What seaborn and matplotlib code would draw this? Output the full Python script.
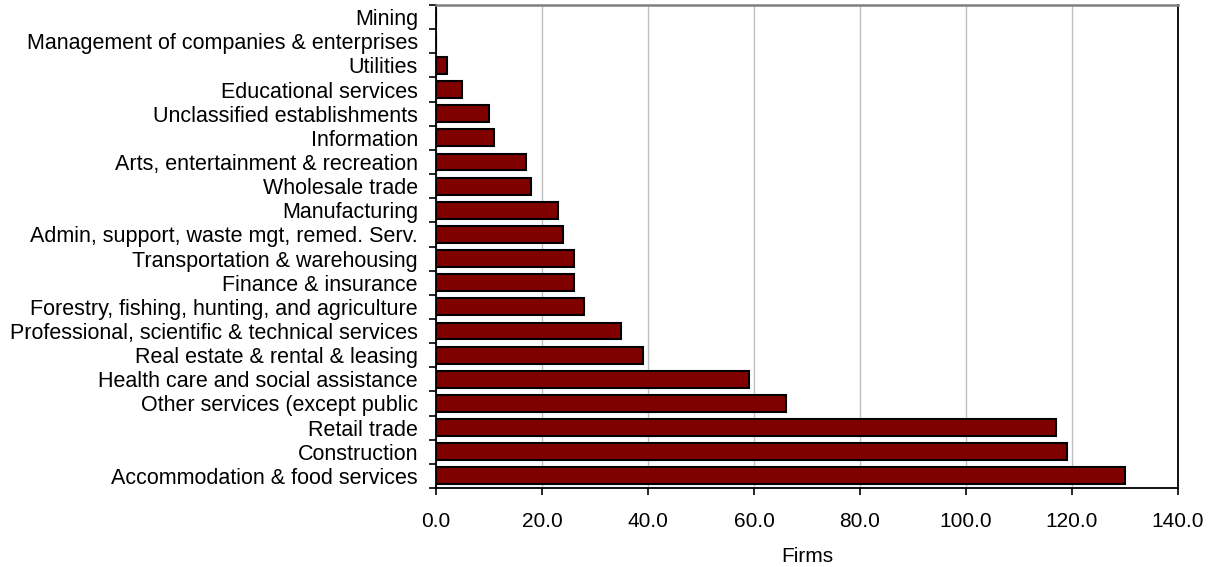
import matplotlib
matplotlib.use("Agg")
import matplotlib.pyplot as plt
from matplotlib.ticker import FixedLocator, FuncFormatter
import seaborn as sns
import pandas as pd
import numpy as np

categories = [
    "Mining",
    "Management of companies & enterprises",
    "Utilities",
    "Educational services",
    "Unclassified establishments",
    "Information",
    "Arts, entertainment & recreation",
    "Wholesale trade",
    "Manufacturing",
    "Admin, support, waste mgt, remed. Serv.",
    "Transportation & warehousing",
    "Finance & insurance",
    "Forestry, fishing, hunting, and agriculture",
    "Professional, scientific & technical services",
    "Real estate & rental & leasing",
    "Health care and social assistance",
    "Other services (except public",
    "Retail trade",
    "Construction",
    "Accommodation & food services",
]
firms = [0, 0, 2, 5, 10, 11, 17, 18, 23, 24, 26, 26, 28, 35, 39, 59, 66, 117, 119, 130]
x_ticks = [0, 20, 40, 60, 80, 100, 120, 140]

df = pd.DataFrame({"Industry": categories, "Firms": firms})

sns.set_style("white")
plt.rcParams["font.family"] = ["Liberation Sans", "DejaVu Sans"]
plt.rcParams["text.color"] = "black"
plt.rcParams["axes.labelcolor"] = "black"
plt.rcParams["xtick.color"] = "black"
plt.rcParams["ytick.color"] = "black"

fig = plt.figure(figsize=(12.09, 5.67), dpi=100)
left, right, bottom, top = 0.3606, 0.9744, 0.1393, 0.9912
ax = fig.add_axes([left, bottom, right - left, top - bottom])

sns.barplot(data=df, x="Firms", y="Industry", order=categories, orient="h",
            color="#800000", saturation=1, width=0.7,
            edgecolor="black", linewidth=1.5, ax=ax, zorder=3)

ax.set_xlim(0, 140)
ax.set_ylim(len(categories) - 0.5, -0.5)
ax.set_xticks(x_ticks)
ax.xaxis.set_major_formatter(FuncFormatter(lambda v, p: f"{v:.1f}"))
ax.set_axisbelow(True)
ax.grid(axis="x", color="#c0c0c0", linewidth=1.0, zorder=0)
ax.grid(axis="y", visible=False)

ax.yaxis.set_minor_locator(FixedLocator(np.arange(-0.5, len(categories), 1.0)))
ax.tick_params(axis="y", which="major", length=0, pad=13, labelsize=15.5, labelcolor="black")
ax.tick_params(axis="y", which="minor", length=5, width=1.2, color="black", direction="out", left=True)
ax.tick_params(axis="x", which="major", length=5, width=1.2, color="black", direction="out",
               bottom=True, labelsize=15, pad=12, labelcolor="black")

ax.set_ylabel("")
ax.set_xlabel("Firms", fontsize=15, labelpad=12, color="black")

for side in ["left", "bottom", "right"]:
    ax.spines[side].set_color("black")
    ax.spines[side].set_linewidth(1.3)
ax.spines["top"].set_color("#808080")
ax.spines["top"].set_linewidth(1.8)
for s in ax.spines.values():
    s.set_visible(True)

fig.savefig("out.png", dpi=100)
